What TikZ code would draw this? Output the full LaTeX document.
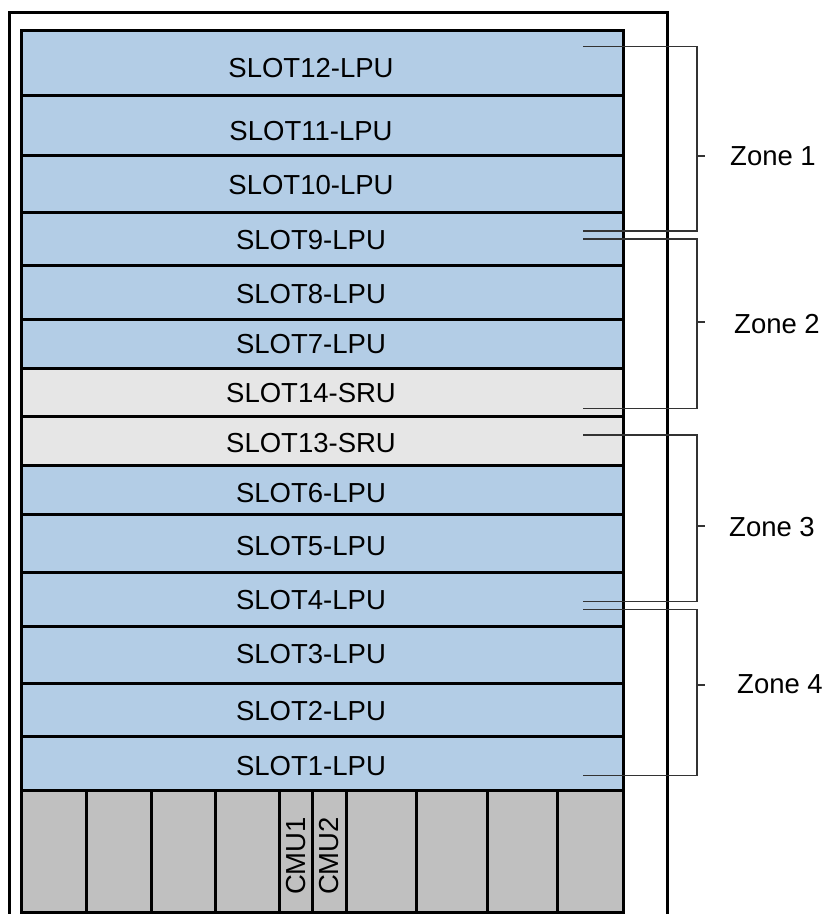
\documentclass[tikz,border=0pt]{standalone}
\usepackage{fontspec}
\setmainfont{Liberation Sans}
\definecolor{lpu}{HTML}{B3CDE6}
\definecolor{sru}{HTML}{E6E6E6}
\definecolor{cmu}{HTML}{C0C0C0}
\definecolor{brk}{HTML}{333333}
\begin{document}
\begin{tikzpicture}[x=1pt,y=-1pt,
  lbl/.style={font=\fontsize{27.5}{32}\selectfont, inner sep=0pt},
  slotline/.style={draw=black, line width=3pt},
  brkline/.style={draw=brk, line width=1.1pt},
  zonelbl/.style={lbl, anchor=west}]
\useasboundingbox (0,0) rectangle (825,914);
% outer frame
\draw[line width=3pt] (9.5,916) -- (9.5,12.7) -- (667.7,12.7) -- (667.7,916);
% slots
\foreach \t/\b/\c/\ty/\l in {
  30/95/lpu/68/SLOT12-LPU,
  95/155.5/lpu/131/SLOT11-LPU,
  155.5/212.5/lpu/185/SLOT10-LPU,
  212.5/265.5/lpu/240/SLOT9-LPU,
  265.5/319/lpu/294/SLOT8-LPU,
  319/368/lpu/344/SLOT7-LPU,
  368/416.5/sru/393/SLOT14-SRU,
  416.5/465.5/sru/443/SLOT13-SRU,
  465.5/514.5/lpu/493/SLOT6-LPU,
  514.5/572/lpu/546/SLOT5-LPU,
  572/626/lpu/600/SLOT4-LPU,
  626/683/lpu/654/SLOT3-LPU,
  683/736/lpu/711/SLOT2-LPU,
  736/790.5/lpu/766/SLOT1-LPU} {
  \path[slotline, fill=\c] (21,\t) rectangle (623.5,\b);
  \node[lbl] (\l) at (311,\ty) {\l};
}
% bottom CMU area
\path[slotline, fill=cmu] (21,790.5) rectangle (623.5,912);
\foreach \x in {86,151,215,279,312.5,346.5,416,487,557}
  \draw[line width=3pt] (\x,790.5) -- (\x,912);
\node[lbl, rotate=90] (cmu1) at (295.7,856) {CMU1};
\node[lbl, rotate=90] (cmu2) at (329.5,856) {CMU2};
% zone brackets
\foreach \tp/\bt/\md in {46.7/231/156, 239/408.7/322, 435/601.7/526, 609.3/775.7/685} {
  \draw[brkline] (583,\tp) -- (697,\tp) -- (697,\bt) -- (583,\bt);
  \draw[brkline] (697,\md) -- (705,\md);
}
\node[zonelbl] (z1) at (730,156) {Zone 1};
\node[zonelbl] (z2) at (734,324) {Zone 2};
\node[zonelbl] (z3) at (729,527) {Zone 3};
\node[zonelbl] (z4) at (737,684) {Zone 4};
\end{tikzpicture}
\end{document}
